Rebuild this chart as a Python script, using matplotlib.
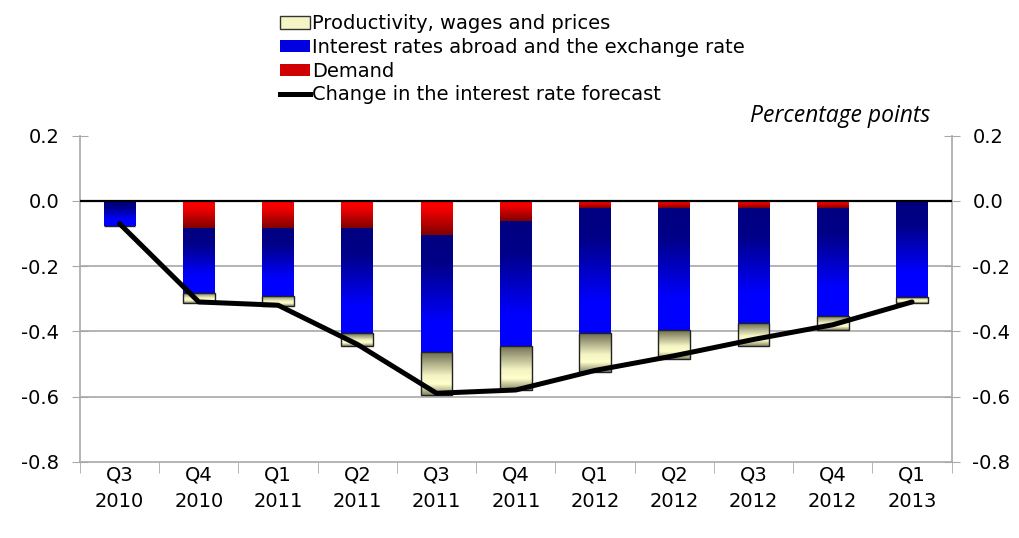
import numpy as np
import matplotlib
matplotlib.use("Agg")
import matplotlib.pyplot as plt
from matplotlib.colors import LinearSegmentedColormap
from matplotlib.patches import Patch
from matplotlib.lines import Line2D

quarters = ["Q3\n2010", "Q4\n2010", "Q1\n2011", "Q2\n2011", "Q3\n2011", "Q4\n2011",
            "Q1\n2012", "Q2\n2012", "Q3\n2012", "Q4\n2012", "Q1\n2013"]
demand = [0.0, -0.082, -0.082, -0.082, -0.105, -0.062, -0.021, -0.021, -0.021, -0.021, 0.0]
abroad = [-0.076, -0.200, -0.210, -0.323, -0.360, -0.383, -0.385, -0.375, -0.354, -0.332, -0.294]
productivity = [0.0, -0.031, -0.031, -0.039, -0.129, -0.135, -0.118, -0.088, -0.070, -0.043, -0.020]
forecast = [-0.07, -0.31, -0.32, -0.44, -0.59, -0.58, -0.52, -0.475, -0.425, -0.38, -0.31]

blue_cm = LinearSegmentedColormap.from_list("b", [(0, "#000080"), (0.25, "#000088"), (0.75, "#0000ff"), (1, "#0000ff")])
red_cm = LinearSegmentedColormap.from_list("r", [(0, "#ff0000"), (0.3, "#ee0000"), (1, "#800000")])
prod_cm = LinearSegmentedColormap.from_list("p", [(0, "#6e6e52"), (0.55, "#f4f4c4"), (0.75, "#ffffcc"), (1, "#8a8a6a")])

fig = plt.figure(figsize=(10.2, 5.38), dpi=100)
ax = fig.add_axes([0.0784, 0.1418, 0.8546, 0.606])
x = np.arange(len(quarters))
w = 0.4


def grad_bars(bottoms, heights, cmap, edge=None):
    bars = ax.bar(x, heights, w, bottom=bottoms, color="none",
                  edgecolor=edge if edge else "none", linewidth=1.0 if edge else 0, zorder=3)
    grad = np.linspace(0, 1, 64).reshape(-1, 1)
    for b in bars:
        h = b.get_height()
        if abs(h) < 1e-9:
            continue
        x0, y0 = b.get_x(), b.get_y()
        top, bot = max(y0, y0 + h), min(y0, y0 + h)
        im = ax.imshow(grad, cmap=cmap, aspect="auto", extent=[x0, x0 + w, bot, top],
                       origin="upper", zorder=2)
        im.set_clip_path(b)
    return bars


d = np.array(demand)
a = np.array(abroad)
p = np.array(productivity)
grad_bars(np.zeros_like(d), d, red_cm)
grad_bars(d, a, blue_cm)
grad_bars(d + a, p, prod_cm, edge="#222222")

ax.plot(x, forecast, color="black", lw=3.6, zorder=5, solid_capstyle="round")
ax.axhline(0, color="black", lw=1.6, zorder=4)

ax.set_xlim(-0.5, len(quarters) - 0.5)
ax.set_ylim(-0.8, 0.2)
yt = [0.2, 0.0, -0.2, -0.4, -0.6, -0.8]
ax.set_yticks(yt)
ax.set_yticklabels([f"{v:.1f}" for v in yt])
for v in [-0.2, -0.4, -0.6]:
    ax.axhline(v, color="#a8a8a8", lw=1.2, zorder=1)
ax.spines["top"].set_visible(False)
for s in ["left", "right", "bottom"]:
    ax.spines[s].set_color("#a8a8a8")
    ax.spines[s].set_linewidth(1.2)
ax.tick_params(axis="y", which="both", direction="inout", length=12, color="#a8a8a8",
               labelsize=14, left=True, right=True, labelleft=True, labelright=True, pad=9)
ax.set_xticks(x)
ax.set_xticklabels(quarters, linespacing=1.45)
ax.set_xticks(np.arange(-0.5, len(quarters), 1), minor=True)
ax.tick_params(axis="x", which="major", length=0, labelsize=14, pad=3)
ax.tick_params(axis="x", which="minor", length=8, color="#a8a8a8", direction="out")

handles = [Patch(facecolor="#f4f4c4", edgecolor="#333333", linewidth=1.0),
           Patch(facecolor="#0000e0", edgecolor="none"),
           Patch(facecolor="#d00000", edgecolor="none"),
           Line2D([0], [0], color="black", lw=3.6)]
labels = ["Productivity, wages and prices", "Interest rates abroad and the exchange rate",
          "Demand", "Change in the interest rate forecast"]
fig.legend(handles, labels, loc="upper left", bbox_to_anchor=(0.263, 0.995), frameon=False,
           fontsize=14, handlelength=1.55, handleheight=0.6, handletextpad=0.1,
           labelspacing=0.24, borderaxespad=0.2)

fig.text(0.912, 0.785, "Percentage points", ha="right", va="center", style="italic",
         fontsize=16.5, family="Open Sans")

fig.savefig("out.png", dpi=100)
